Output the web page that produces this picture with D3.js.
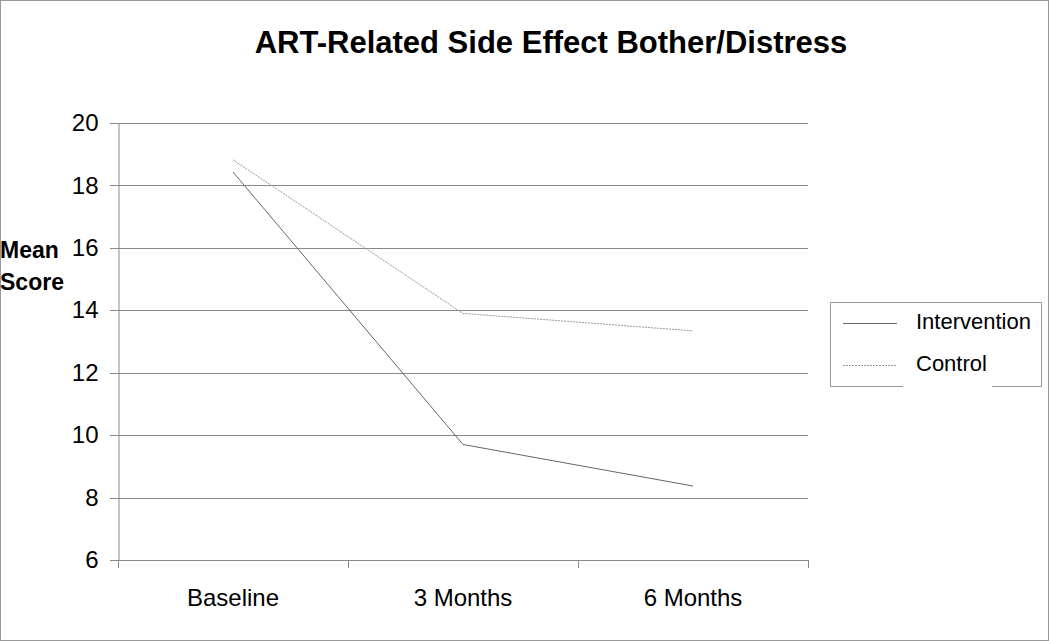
<!DOCTYPE html>
<html>
<head>
<meta charset="utf-8">
<script src="https://cdn.jsdelivr.net/npm/d3@7"></script>
<style>
  body { margin: 0; background: #fff; }
  svg { display: block; font-family: "Liberation Sans", Arial, sans-serif; }
</style>
</head>
<body>
<script>
// chart data
var categories = ["Baseline", "3 Months", "6 Months"];
var intervention = [18.43, 9.70, 8.37];
var control = [18.82, 13.90, 13.34];
var yTicks = [6, 8, 10, 12, 14, 16, 18, 20];
var seriesNames = ["Intervention", "Control"];

var width = 1050;
var height = 641;
var svg = d3.select("body")
  .append("svg")
  .attr("width", width)
  .attr("height", height);

// outer frame
svg.append("rect")
  .attr("x", 0.5).attr("y", 0.5)
  .attr("width", width - 2).attr("height", height - 1)
  .style("fill", "none")
  .style("stroke", "#999");

var plotLeft = 118, plotRight = 808, plotTop = 123, plotBottom = 560;

var xScale = d3.scaleBand()
  .domain(categories)
  .range([plotLeft, plotRight]);

var yScale = d3.scaleLinear()
  .domain([6, 20])
  .range([plotBottom, plotTop]);

// title
svg.append("text")
  .attr("x", 551)
  .attr("y", 53)
  .style("text-anchor", "middle")
  .style("font-size", "31px")
  .style("font-weight", "bold")
  .text("ART-Related Side Effect Bother/Distress");

// gridlines
svg.append("g")
  .selectAll("line")
  .data(yTicks)
  .enter()
  .append("line")
  .attr("x1", plotLeft - 8)
  .attr("x2", plotRight)
  .attr("y1", function(d) { return Math.round(yScale(d)) + 0.5; })
  .attr("y2", function(d) { return Math.round(yScale(d)) + 0.5; })
  .style("stroke", "#888")
  .style("stroke-width", 1);

// y axis
var yAxis = d3.axisLeft(yScale)
  .tickValues(yTicks)
  .tickSize(0)
  .tickPadding(20);

svg.append("g")
  .attr("class", "y-axis")
  .attr("transform", "translate(" + (plotLeft + 0.5) + ",0)")
  .call(yAxis)
  .call(function(g) {
    g.select(".domain").style("stroke", "#888");
    g.selectAll("text").style("font-size", "24px").style("fill", "#000")
      .style("font-family", "'Liberation Sans', Arial, sans-serif");
  });

// x axis
var xAxis = d3.axisBottom(xScale).tickSize(0).tickPadding(28);
svg.append("g")
  .attr("class", "x-axis")
  .attr("transform", "translate(0," + (plotBottom + 0.5) + ")")
  .call(xAxis)
  .call(function(g) {
    g.select(".domain").remove();
    g.selectAll("text").style("font-size", "24px").style("fill", "#000")
      .style("font-family", "'Liberation Sans', Arial, sans-serif");
  });

// x tick marks at band edges
var edges = categories.map(function(c) { return xScale(c); }).concat([plotRight]);
svg.append("g")
  .selectAll("line")
  .data(edges)
  .enter()
  .append("line")
  .attr("x1", function(d) { return Math.round(d) + 0.5; })
  .attr("x2", function(d) { return Math.round(d) + 0.5; })
  .attr("y1", plotBottom)
  .attr("y2", plotBottom + 8)
  .style("stroke", "#888");

// axis label
svg.append("text")
  .attr("x", 0)
  .attr("y", 258)
  .style("font-size", "23px")
  .style("font-weight", "bold")
  .text("Mean");
svg.append("text")
  .attr("x", 0)
  .attr("y", 290)
  .style("font-size", "23px")
  .style("font-weight", "bold")
  .text("Score");

// lines
var line = d3.line()
  .x(function(d, i) { return xScale(categories[i]) + xScale.bandwidth() / 2; })
  .y(function(d) { return yScale(d); });

svg.append("path")
  .datum(control)
  .attr("d", line)
  .style("fill", "none")
  .style("stroke", "#999")
  .style("stroke-width", 1)
  .style("stroke-dasharray", "2,1");

svg.append("path")
  .datum(intervention)
  .attr("d", line)
  .style("fill", "none")
  .style("stroke", "#666")
  .style("stroke-width", 1);

// legend
var legend = svg.append("g");
legend.append("path")
  .attr("d", "M903,386.5 H830.5 V302.5 H1041.5 V386.5 H992")
  .style("fill", "none")
  .style("stroke", "#999");

var legendStyles = [
  { stroke: "#666", dash: null },
  { stroke: "#999", dash: "2,1" }
];
var items = legend.selectAll(".item")
  .data(seriesNames)
  .enter()
  .append("g")
  .attr("class", "item")
  .attr("transform", function(d, i) { return "translate(0," + (323 + i * 42) + ")"; });

items.append("line")
  .attr("x1", 843).attr("x2", 897)
  .attr("y1", 0.5).attr("y2", 0.5)
  .style("stroke", function(d, i) { return legendStyles[i].stroke; })
  .style("stroke-dasharray", function(d, i) { return legendStyles[i].dash; });

items.append("text")
  .attr("x", 916)
  .attr("y", 6)
  .style("font-size", "22px")
  .text(function(d) { return d; });
</script>
</body>
</html>
